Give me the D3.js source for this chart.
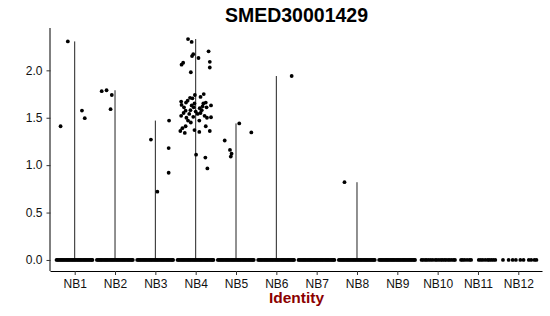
<!DOCTYPE html>
<html>
<head>
<meta charset="utf-8">
<script src="https://cdn.jsdelivr.net/npm/d3@7"></script>
<style>
  body { margin: 0; background: #fff; }
  text { font-family: "Liberation Sans", Arial, sans-serif; }
</style>
</head>
<body>
<div id="chart"></div>
<script>
// gene + groups
var geneName = "SMED30001429";
var categories = ["NB1", "NB2", "NB3", "NB4", "NB5", "NB6", "NB7", "NB8", "NB9", "NB10", "NB11", "NB12"];
var yTicks = [0, 0.5, 1, 1.5, 2];

// expressing cells per group: [value, jitter]
var exprNB1 = [[2.305, -0.17], [1.41, -0.35], [1.576, 0.18], [1.495, 0.25]];
var exprNB2 = [[1.78, -0.33], [1.79, -0.21], [1.74, -0.08], [1.59, -0.11]];
var exprNB3 = [[1.27, -0.11], [1.18, 0.33], [0.92, 0.33], [0.72, 0.05], [1.47, 0.34]];
var exprNB4 = [
  [2.33, -0.19], [2.30, -0.10], [2.20, 0.32], [2.17, -0.06], [2.15, -0.09], [2.13, 0.07],
  [2.09, 0.35], [2.03, 0.35], [2.08, -0.31], [2.06, -0.35], [1.98, -0.12],
  [1.74, -0.02], [1.75, 0.20], [1.71, -0.14], [1.705, -0.08], [1.67, -0.36], [1.66, -0.24],
  [1.65, -0.03], [1.65, 0.19], [1.66, 0.25], [1.63, 0.38], [1.635, -0.35], [1.61, -0.29],
  [1.61, -0.05], [1.62, 0.17], [1.61, 0.27], [1.575, -0.25], [1.58, -0.13], [1.565, 0.0],
  [1.58, 0.15], [1.55, -0.30], [1.54, -0.16], [1.54, 0.05], [1.52, 0.22], [1.52, -0.36],
  [1.50, -0.23], [1.51, -0.06], [1.50, 0.28], [1.505, 0.38], [1.47, 0.09], [1.47, -0.19],
  [1.41, -0.25], [1.41, 0.25], [1.39, -0.33], [1.36, -0.38], [1.37, -0.03], [1.35, 0.09],
  [1.36, 0.35], [1.34, -0.27], [1.11, 0.01], [1.08, 0.24], [0.965, 0.29],
  [1.68, -0.20], [1.63, -0.10], [1.60, 0.10], [1.55, 0.12], [1.45, -0.12], [1.72, 0.12]
];
var exprNB5 = [[1.26, -0.28], [1.16, -0.15], [1.12, -0.11], [1.09, -0.13], [1.44, 0.08], [1.345, 0.38]];
var exprNB6 = [[1.94, 0.38]];
var exprNB8 = [[0.82, -0.31]];

// jitter of the zero-expression cells
var zeroDense = [-0.45, -0.42, -0.39, -0.36, -0.33, -0.30, -0.27, -0.24, -0.21, -0.18, -0.15,
  -0.12, -0.09, -0.06, -0.03, 0.0, 0.03, 0.06, 0.09, 0.12, 0.15, 0.18, 0.21, 0.24, 0.27,
  0.30, 0.33, 0.36, 0.39, 0.42, 0.44];
var zeroNB10 = [-0.40, -0.36, -0.31, -0.27, -0.22, -0.17, -0.12, -0.06, -0.02, 0.03, 0.08,
  0.12, 0.17, 0.21, 0.26, 0.30, 0.35, 0.40, 0.43];
var zeroNB11 = [-0.42, -0.38, -0.33, -0.27, -0.21, -0.17, 0.02, 0.07, 0.12, 0.18, 0.24,
  0.28, 0.33, 0.38, 0.43];
var zeroNB12 = [-0.38, -0.24, -0.14, -0.06, 0.05, 0.13, 0.26, 0.32, 0.40, 0.45];

var exprByGroup = {
  NB1: exprNB1, NB2: exprNB2, NB3: exprNB3, NB4: exprNB4, NB5: exprNB5,
  NB6: exprNB6, NB7: [], NB8: exprNB8, NB9: [], NB10: [], NB11: [], NB12: []
};
var zeroByGroup = {
  NB1: zeroDense, NB2: zeroDense, NB3: zeroDense, NB4: zeroDense, NB5: zeroDense,
  NB6: zeroDense, NB7: zeroDense, NB8: zeroDense, NB9: zeroDense,
  NB10: zeroNB10, NB11: zeroNB11, NB12: zeroNB12
};

var width = 550, height = 316;
var margin = { top: 28, right: 7.5, bottom: 45, left: 50.5 };

var svg = d3.select("#chart").append("svg")
  .attr("width", width)
  .attr("height", height);

// flatten into one list of cells
var cells = [];
categories.forEach(function (c) {
  zeroByGroup[c].forEach(function (j) { cells.push({ group: c, value: 0, jitter: j }); });
  exprByGroup[c].forEach(function (d) { cells.push({ group: c, value: d[0], jitter: d[1] }); });
});

var yMax = d3.max(cells, function (d) { return d.value; });

var x = d3.scalePoint()
  .domain(categories)
  .range([margin.left, width - margin.right])
  .padding(0.6);
var step = x.step();

var y = d3.scaleLinear()
  .domain([-0.05 * yMax, 1.05 * yMax])
  .range([height - margin.bottom, margin.top]);

// "violins" collapse to a line from 0 to group max
var groupMax = categories.map(function (c) {
  return { group: c, max: d3.max(exprByGroup[c], function (d) { return d[0]; }) || 0 };
}).filter(function (d) { return d.max > 0; });

svg.append("g")
  .selectAll("line")
  .data(groupMax)
  .enter()
  .append("line")
  .attr("x1", function (d) { return x(d.group); })
  .attr("x2", function (d) { return x(d.group); })
  .attr("y1", y(0))
  .attr("y2", function (d) { return y(d.max); })
  .attr("stroke", "#222")
  .attr("stroke-width", 1);

svg.append("g")
  .selectAll("circle")
  .data(cells)
  .enter()
  .append("circle")
  .attr("cx", function (d) { return x(d.group) + d.jitter * step; })
  .attr("cy", function (d) { return y(d.value); })
  .attr("r", 1.9)
  .attr("fill", "#000");

// axes
var xAxis = svg.append("g")
  .attr("transform", "translate(0," + (height - margin.bottom) + ")")
  .call(d3.axisBottom(x).tickSize(4).tickSizeOuter(0).tickPadding(4));

var yAxis = svg.append("g")
  .attr("transform", "translate(" + margin.left + ",0)")
  .call(d3.axisLeft(y).tickValues(yTicks).tickFormat(d3.format(".1f"))
    .tickSize(4).tickSizeOuter(0).tickPadding(4));

[xAxis, yAxis].forEach(function (a) {
  a.select(".domain").attr("stroke", "#000").attr("stroke-width", 1);
  a.selectAll(".tick line").attr("stroke", "#333");
  a.selectAll(".tick text")
    .attr("fill", "#111")
    .style("font-size", "12px")
    .style("font-family", "'Liberation Sans', Arial, sans-serif");
});
// extend x axis line to the y axis
xAxis.select(".domain").attr("d", "M" + margin.left + ",0.5H" + (width - margin.right));
yAxis.select(".domain").attr("d", "M-0.5," + margin.top + "V" + (height - margin.bottom));

svg.append("text")
  .attr("x", (margin.left + width - margin.right) / 2)
  .attr("y", 22)
  .attr("text-anchor", "middle")
  .style("font-size", "19.5px")
  .style("font-weight", "bold")
  .text(geneName);

svg.append("text")
  .attr("x", (margin.left + width - margin.right) / 2)
  .attr("y", 303)
  .attr("text-anchor", "middle")
  .style("font-size", "15.5px")
  .style("font-weight", "bold")
  .attr("fill", "#8B0000")
  .text("Identity");
</script>
</body>
</html>
